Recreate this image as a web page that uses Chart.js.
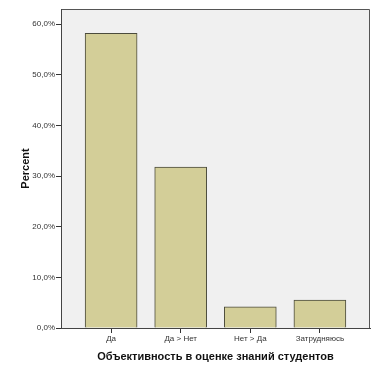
<!DOCTYPE html>
<html>
<head>
<meta charset="utf-8">
<script src="https://cdn.jsdelivr.net/npm/chart.js@4"></script>
<style>
  html, body { margin: 0; padding: 0; background: #fff; }
  #wrap { width: 378px; height: 378px; }
</style>
</head>
<body>
<div id="wrap"><canvas id="myChart"></canvas></div>
<script>
// values
var categories = ["Да", "Да > Нет", "Нет > Да", "Затрудняюсь"];
var percent = [58.2, 31.8, 4.2, 5.5];
var yTicks = [0, 10, 20, 30, 40, 50, 60];

// grey plot area with a frame, like SPSS
var plotFrame = {
  id: 'plotFrame',
  beforeDraw: function(chart) {
    var a = chart.chartArea, ctx = chart.ctx;
    ctx.save();
    ctx.fillStyle = '#f0f0f0';
    ctx.fillRect(a.left, a.top, a.right - a.left, a.bottom - a.top);
    ctx.strokeStyle = '#555';
    ctx.lineWidth = 1;
    ctx.beginPath();
    ctx.moveTo(a.left, a.top + 0.5);
    ctx.lineTo(a.right - 0.5, a.top + 0.5);
    ctx.lineTo(a.right - 0.5, a.bottom);
    ctx.stroke();
    ctx.restore();
  }
};

var canvas = document.getElementById("myChart");
var myChart = new Chart(canvas, {
  type: 'bar',
  data: {
    datasets: [{
      data: categories.map(function(c, i) { return { x: i, y: percent[i] }; }),
      backgroundColor: '#d3ce98',
      borderColor: '#4b4b3c',
      borderWidth: 1,
      barThickness: 52
    }]
  },
  options: {
    responsive: true,
    maintainAspectRatio: false,
    animation: false,
    layout: { padding: { left: 0, top: 9, right: 8, bottom: 0 } },
    plugins: { legend: { display: false }, tooltip: { enabled: false } },
    scales: {
      x: {
        type: 'linear',
        offset: false,
        min: -0.72,
        max: 3.72,
        afterBuildTicks: function(scale) {
          scale.ticks = categories.map(function(c, i) { return { value: i }; });
        },
        afterFit: function(scale) { scale.height = 50; },
        grid: { offset: false, drawOnChartArea: false, drawTicks: true, tickLength: 5, lineWidth: 1, color: '#333', tickColor: '#333' },
        border: { color: '#444', width: 1 },
        ticks: {
          autoSkip: false,
          maxRotation: 0,
          padding: 1,
          color: '#333',
          font: { family: 'Liberation Sans', size: 8 },
          callback: function(v) { return categories[v]; }
        },
        title: {
          display: true,
          text: 'Объективность в оценке знаний студентов',
          color: '#111',
          font: { family: 'Liberation Sans', size: 11, weight: 'bold' },
          padding: { top: 0, bottom: 14 }
        }
      },
      y: {
        min: 0,
        max: 63,
        afterBuildTicks: function(scale) {
          scale.ticks = yTicks.map(function(v) { return { value: v }; });
        },
        afterFit: function(scale) { scale.width = 61; },
        grid: { drawOnChartArea: false, tickLength: 5, color: '#333', tickColor: '#333' },
        border: { color: '#444', width: 1 },
        ticks: {
          padding: 1,
          color: '#333',
          font: { family: 'Liberation Sans', size: 8 },
          callback: function(v) { return v.toFixed(1).replace('.', ',') + '%'; }
        },
        title: {
          display: true,
          text: 'Percent',
          color: '#111',
          font: { family: 'Liberation Sans', size: 11, weight: 'bold' },
          padding: { bottom: 0, top: 19 }
        }
      }
    }
  },
  plugins: [plotFrame]
});
</script>
</body>
</html>
